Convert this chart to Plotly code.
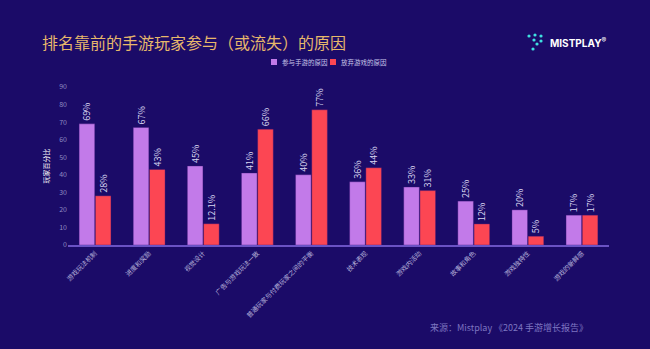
import plotly.graph_objects as go

categories = ["游戏玩法机制", "进度和奖励", "视觉设计", "广告与游戏玩法一致",
              "普通玩家与付费玩家之间的平衡", "技术表现", "游戏内活动", "故事和角色",
              "游戏独特性", "游戏的新鲜感"]
join_vals = [69, 67, 45, 41, 40, 36, 33, 25, 20, 17]
quit_vals = [28, 43, 12.1, 66, 77, 44, 31, 12, 5, 17]
series_names = ["参与手游的原因", "放弃游戏的原因"]
y_ticks = [0, 10, 20, 30, 40, 50, 60, 70, 80, 90]

BG = "#1b0b68"
PURPLE = "#c27ae9"
RED = "#fc4653"
FONT = "Noto Sans CJK SC"

L, R, T, B = 68, 41, 87, 104
PW = 650 - L - R
PH = 349 - T - B


def px(x):
    return (x - L) / PW


def py(y):
    return (349 - B - y) / PH


fig = go.Figure()
for vals, name, color in [(join_vals, series_names[0], PURPLE), (quit_vals, series_names[1], RED)]:
    fig.add_trace(go.Bar(
        x=categories, y=vals, name=name, showlegend=False,
        marker=dict(color=color, line=dict(color="rgba(60,20,120,0.6)", width=0.6)),
        text=[f"{v:g}%" for v in vals], textposition="outside", textangle=-90,
        textfont=dict(family=FONT, size=9, color="#d9d6f0"),
        cliponaxis=False,
    ))

annotations = [
    dict(text="排名靠前的手游玩家参与（或流失）的原因", xref="paper", yref="paper",
         x=px(40), y=py(42), xanchor="left", yanchor="middle",
         showarrow=False, font=dict(family=FONT, size=16, color="#e7b86b")),
    dict(text="<b>MISTPLAY</b><sup>®</sup>", xref="paper", yref="paper",
         x=px(548), y=py(42), xanchor="left", yanchor="middle",
         showarrow=False, font=dict(family="Inter", size=10, color="#ffffff")),
    dict(text="来源：Mistplay 《2024 手游增长报告》", xref="paper", yref="paper",
         x=px(428), y=py(327), xanchor="left", yanchor="middle",
         showarrow=False, font=dict(family=FONT, size=9, color="#7d75c0")),
]
shapes = []

# manual legend
for (sx, name, color) in [(271, series_names[0], PURPLE), (330, series_names[1], RED)]:
    shapes.append(dict(type="rect", xref="paper", yref="paper",
                       x0=px(sx), x1=px(sx + 6), y0=py(65), y1=py(59),
                       fillcolor=color, line=dict(width=0)))
    annotations.append(dict(text=name, xref="paper", yref="paper",
                            x=px(sx + 9), y=py(62), xanchor="left", yanchor="middle",
                            showarrow=False, font=dict(family=FONT, size=6.5, color="#c8c4e8")))

# logo dots
dots = [(529, 36), (535, 35), (541, 36), (534, 40), (541, 41), (537, 44), (533, 49)]
for (cx, cy) in dots:
    shapes.append(dict(type="circle", xref="paper", yref="paper",
                       x0=px(cx - 1.6), x1=px(cx + 1.6),
                       y0=py(cy + 1.6), y1=py(cy - 1.6),
                       fillcolor="#3fe0e0", line=dict(width=0)))

fig.update_layout(
    width=650, height=349,
    paper_bgcolor=BG, plot_bgcolor=BG,
    margin=dict(l=L, r=R, t=T, b=B, autoexpand=False),
    barmode="group", bargap=0.4, bargroupgap=0.04,
    uniformtext=dict(minsize=9, mode="show"),
    font=dict(family=FONT, color="#c8c4e8"),
    showlegend=False,
    xaxis=dict(tickangle=-45, tickfont=dict(size=6.5, color="#b8b4dc"),
               showline=True, linecolor="#6a52c4", linewidth=2,
               showgrid=False, ticks=""),
    yaxis=dict(range=[0, 90], tickvals=y_ticks, showgrid=False, zeroline=False,
               showline=False, tickfont=dict(size=7, color="#8f8ac2"),
               title=dict(text="玩家百分比", font=dict(size=7, color="#ffffff"), standoff=8)),
    annotations=annotations,
    shapes=shapes,
)

fig.write_html("out.html")
